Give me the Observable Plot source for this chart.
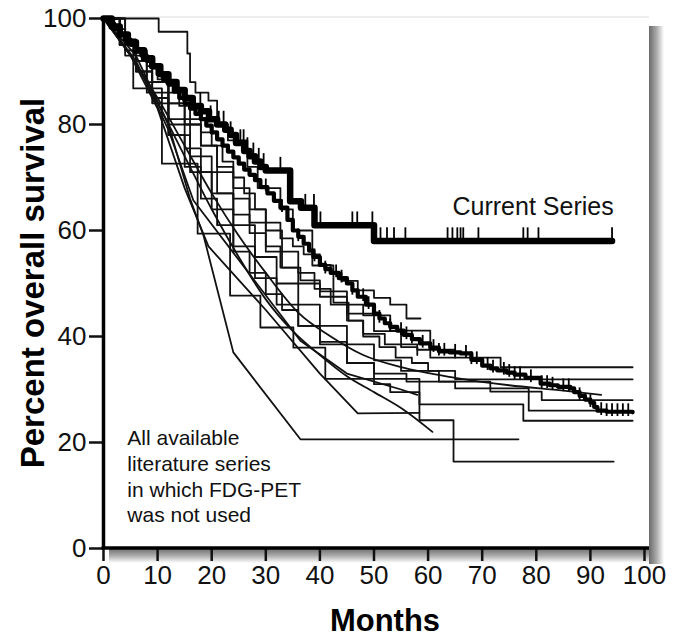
<!DOCTYPE html>
<html>
<head>
<meta charset="utf-8">
<script src="https://cdn.jsdelivr.net/npm/d3@7"></script>
<script src="https://cdn.jsdelivr.net/npm/@observablehq/plot@0.6"></script>
<style>
html, body { margin: 0; padding: 0; background: #fff; }
#chart { width: 683px; height: 639px; }
</style>
</head>
<body>
<div id="chart"></div>
<script>
// ---------- tick labels ----------
const xTicks = [0, 10, 20, 30, 40, 50, 60, 70, 80, 90, 100];
const yTicks = [0, 20, 40, 60, 80, 100];

// ---------- current series (thick, Kaplan–Meier steps) [month, % survival] ----------
const currentSeries = [[0,100],[1.5,98.5],[3,97],[4.5,95.5],[6,94],[7.5,92.5],[9,91],[10.5,89.5],[12,88],[13.5,86.5],[15,85],[16.5,83.5],[18,82.5],[19.5,81],[21,80],[22.5,79],[23.5,78],[24.5,76.5],[26,75],[27,74],[28,73],[29,72],[30,71.3],[34.5,65.5],[36.5,64.3],[39,61],[50,58],[94,58]];
const currentCensored = [17.9,19.8,21.3,22.2,23.5,25.3,25.9,26.6,27.7,28.7,29.6,32.7,37.3,38.9,40.1,46,46.9,49.7,51.2,52.4,53.7,55.8,63.6,64.5,65.4,66,66.5,69.3,77.6,78.4,80.4,94];

// ---------- pooled literature curve (second thick curve) ----------
const pooledSeries = [[0,100],[1,99],[2,98],[3,97],[4,96],[5,95],[6,94],[7,93],[8,92],[9,90.8],[10,89.5],[11,88.5],[12,87.5],[13,86.2],[14,85],[15,84],[16,83],[17,82],[18,81],[19,79.8],[20,78.5],[21,77.2],[22,76],[23,74.9],[24,73.8],[25,72.6],[26,71.5],[27,70.5],[28,69.5],[29,68.2],[30.3,67],[31.5,65.6],[32.7,64.3],[34,62],[35,60],[36,58.8],[37,57.5],[38,56.2],[38.8,55],[40,53.5],[41,52.7],[42,52],[43.5,51],[45,50],[46,48.7],[47,47.5],[48.5,46],[50,44.3],[51,43.4],[52,42.5],[53,41.8],[54.3,41.1],[55.5,40.3],[57,39.5],[58.5,38.7],[60.4,37.9],[62,37.2],[64,37],[66,36.8],[68,35.6],[70,34.5],[71.5,34],[72.8,33.6],[74.5,33.2],[76,32.8],[78,32.2],[80.8,31.1],[82.5,30.8],[84,30.5],[86.3,30.2],[87,29.5],[88,28.8],[89,28.1],[90,27.5],[90.7,26.7],[91.3,26],[93,25.8],[97.8,25.7]];
const pooledCensored = [30,33,36,39,41,43,44,46,48,49,51,53,55,56,57,59,61,62,63,65,67,68,69,71,72,74,75,76,77,79,81,82,83,85,86,88,90,92,93,94,95,96,97];

// ---------- literature series (thin) ----------
const lit01 = [[0,100],[10.2,97.5],[15.5,93.4],[16,88],[17,86],[19.4,84.5],[21,80],[23,77],[26.6,72],[28.5,68],[32.7,64],[35,60],[38.6,53.4],[42.5,46.4],[45.3,43],[48,40.5],[52,38.5],[58,37.5],[65,36],[73.4,34.2],[97.8,34.2]];
const lit02 = [[0,100],[3,96],[6,92],[9,88],[12,84],[15,80],[18,76],[21,72],[24,68],[27,64],[30,60],[33,56],[36,52],[39,49],[42,46],[45,43],[48,40],[51,38],[54,36],[57,35],[60,33.5],[65,31.9],[97.8,31.9]];
const lit03 = [[0,100],[5,93],[10,85],[15,76],[20,67],[25,59],[30,52],[36,44.5],[42,40],[48,36.5],[55,34.2],[65,32.2],[75,30.8],[85,29.8],[92,29]];
const lit04 = [[0,100],[5,93],[10,84],[15,74],[20,64],[25,55],[30,47],[35,41],[40,36.5],[45,32.5],[50,29.5],[55,26.5],[60.8,22]];
const lit05 = [[0,100],[6,93],[12,80],[16,66],[18.5,59],[24,37],[36.4,20.6],[76.7,20.6]];
const lit06 = [[0,100],[5,93],[10,83],[15,68],[19.4,57],[30,45],[40,33],[47,25.5],[58.4,25.6]];
const lit07 = [[0,100],[6,92],[12,79],[16.6,65.7],[36.4,39.2],[45,33],[55,30],[58,29]];
const lit08 = [[0,100],[2,98],[4,96],[6,93.5],[8,91],[10,88.5],[12,86],[14,83.5],[16,81],[18,78.5],[20,76],[22,73],[24,70],[26,67],[28,64],[30,61.5],[32.7,58.5],[35,57],[37,55.5],[40,53.5],[42,52],[44,50.5],[47,48.7],[50,47.3],[53,46],[56,43.4],[58.6,43.4]];
const lit09 = [[0,100],[3,95],[6,90],[9,85],[12,80],[15,75.5],[18,71],[21,67],[24,63],[27,59.5],[30,56],[33,53],[36.4,50.6],[40,48.5],[45,46],[48,44],[53,41.1],[60.4,36],[65,36]];
const lit10 = [[0,100],[3,95],[6,90],[9,84],[12,78],[15,72],[18,66],[21,61],[24,56],[27,52],[30,48],[33,45],[36,42],[40,39],[45,35],[50,31],[53,29.5],[58.4,27.2],[77.6,24.1],[97.8,24.1]];
const lit11 = [[0,100],[3,95],[5.5,86.8],[10.8,72.6],[17.4,59.4],[23.4,47.7],[29,41.7],[35.1,37.9],[41,32],[58.4,24.2],[64.7,16.4],[94.3,16.4]];
const lit12 = [[0,100],[4,94],[8,88],[12,81],[16,74],[20,67],[24,61],[28,55],[32,50],[36,46],[40,42],[45,38.5],[50,35.5],[55,33.5],[62,31.5],[71.5,29.6],[81,28],[97.8,28]];
const lit13 = [[0,100],[4,93],[8,86],[12,78],[16,71],[20,64],[24,57],[28,51],[32,46],[36,42],[40,38.5],[45,35],[50,33],[56,31.5],[65,30.2],[78.6,26],[92,26]];
const lit14 = [[0,100],[3,96],[6,92],[9,88],[12,84],[15,80],[18,76],[21,71],[24,66],[27,61.5],[30,57],[32.7,53],[36,50],[40,47.5],[45,44.3],[50,41],[55,38],[58,36.5]];

// ---------- text ----------
const currentLabel = "Current Series";
const literatureNote = "All available\nliterature series\nin which FDG-PET\nwas not used";
const xTitle = "Months";
const yTitle = "Percent overall survival";

// ---------- tables built from the arrays ----------
function toRows(groups) {
  return Object.entries(groups).flatMap(([name, pts]) =>
    pts.map(([month, surv]) => ({series: name, month, surv})));
}
const stepRows = toRows({lit01, lit02, lit08, lit09, lit10, lit11, lit12, lit13, lit14});
const smoothRows = toRows({lit03, lit04});
const polyRows = toRows({lit05, lit06, lit07});
const currentRows = toRows({currentSeries});
const pooledRows = toRows({pooledSeries});

function survAt(pts, t) {
  let s = pts[0][1];
  for (const [m, v] of pts) { if (m <= t) s = v; else break; }
  return s;
}
const currentTicks = currentCensored.map(t => ({month: t, surv: survAt(currentSeries, t)}));
const pooledTicks = pooledCensored.map(t => ({month: t, surv: survAt(pooledSeries, t)}));

const tickFont = "'Liberation Sans Narrow', 'Arial Narrow', 'Liberation Sans', Arial, sans-serif";
const bodyFont = "'Liberation Sans', Arial, Helvetica, sans-serif";

const plot = Plot.plot({
  width: 683,
  height: 639,
  marginLeft: 103,
  marginRight: 39,
  marginTop: 18,
  marginBottom: 91,
  x: {domain: [0, 100]},
  y: {domain: [0, 100]},
  style: {fontFamily: bodyFont, background: "white", color: "#111"},
  marks: [
    Plot.axisX(xTicks, {tickSize: 13, tickPadding: 4, fontSize: 26, strokeWidth: 2.5, label: null, fontFamily: tickFont}),
    Plot.axisY(yTicks, {tickSize: 14, tickPadding: 3, fontSize: 26, strokeWidth: 2.5, label: null, fontFamily: tickFont}),
    Plot.line(stepRows, {x: "month", y: "surv", z: "series", curve: "step-after", stroke: "#111", strokeWidth: 1.8}),
    Plot.line(smoothRows, {x: "month", y: "surv", z: "series", curve: "monotone-x", stroke: "#111", strokeWidth: 1.8}),
    Plot.line(polyRows, {x: "month", y: "surv", z: "series", curve: "linear", stroke: "#111", strokeWidth: 1.8}),
    Plot.line(pooledRows, {x: "month", y: "surv", curve: "step-after", stroke: "#000", strokeWidth: 4.2}),
    Plot.ruleX(pooledTicks, {x: "month", y1: d => d.surv - 0.9, y2: d => d.surv + 1.5, stroke: "#000", strokeWidth: 1.8}),
    Plot.line(currentRows, {x: "month", y: "surv", curve: "step-after", stroke: "#000", strokeWidth: 6.5, strokeLinecap: "round"}),
    Plot.ruleX(currentTicks, {x: "month", y1: "surv", y2: d => d.surv + 2.5, stroke: "#000", strokeWidth: 1.8}),
    Plot.ruleX([0], {stroke: "#000", strokeWidth: 3.5}),
    Plot.text([currentLabel], {x: 94.3, y: 66.2, text: d => d, textAnchor: "end", lineAnchor: "top", fontSize: 25, fill: "#111"}),
    Plot.text([literatureNote], {x: 4.4, y: 22.9, text: d => d, textAnchor: "start", lineAnchor: "top", fontSize: 21, lineHeight: 1.224, fill: "#111"})
  ]
});

const svg = d3.select(plot);
const xs = plot.scale("x"), ys = plot.scale("y");
const x0 = xs.apply(0), x100 = xs.apply(100), y0 = ys.apply(0), y100 = ys.apply(100);
const panelRight = x100 + 5;

// drop shadow behind everything
const defs = svg.insert("defs", ":first-child");
const gR = defs.append("linearGradient").attr("id", "shadowR").attr("x1", 0).attr("x2", 1).attr("y1", 0).attr("y2", 0);
gR.append("stop").attr("offset", 0).attr("stop-color", "#6a6a6a");
gR.append("stop").attr("offset", 0.5).attr("stop-color", "#aaaaaa");
gR.append("stop").attr("offset", 1).attr("stop-color", "#ffffff");
const gB = defs.append("linearGradient").attr("id", "shadowB").attr("x1", 0).attr("x2", 0).attr("y1", 0).attr("y2", 1);
gB.append("stop").attr("offset", 0).attr("stop-color", "#6a6a6a");
gB.append("stop").attr("offset", 0.5).attr("stop-color", "#aaaaaa");
gB.append("stop").attr("offset", 1).attr("stop-color", "#ffffff");
const shadow = svg.insert("g", "defs + *");
shadow.append("rect").attr("x", panelRight).attr("y", y100 + 8).attr("width", 15).attr("height", y0 - y100 + 8).attr("fill", "url(#shadowR)");
shadow.append("rect").attr("x", x0 + 6).attr("y", y0).attr("width", panelRight - x0 - 6).attr("height", 15).attr("fill", "url(#shadowB)");
shadow.append("line").attr("x1", x0).attr("x2", panelRight).attr("y1", y100 - 1).attr("y2", y100 - 1).attr("stroke", "#dcdcdc").attr("stroke-width", 1);

// x axis line (panel bottom edge, running to the panel's right side)
svg.append("line").attr("x1", x0 - 1.5).attr("x2", panelRight).attr("y1", y0).attr("y2", y0).attr("stroke", "#000").attr("stroke-width", 3.5);

// axis titles
svg.append("text").text(xTitle)
  .attr("x", 385).attr("y", 631).attr("text-anchor", "middle")
  .attr("font-family", bodyFont).attr("font-weight", "bold").attr("font-size", 32)
  .attr("textLength", 110).attr("lengthAdjust", "spacingAndGlyphs").attr("fill", "#000");
svg.append("text").text(yTitle)
  .attr("transform", `translate(44, ${(y0 + y100) / 2}) rotate(-90)`)
  .attr("text-anchor", "middle")
  .attr("font-family", bodyFont).attr("font-weight", "bold").attr("font-size", 33)
  .attr("fill", "#000");

document.getElementById("chart").appendChild(plot);
</script>
</body>
</html>
